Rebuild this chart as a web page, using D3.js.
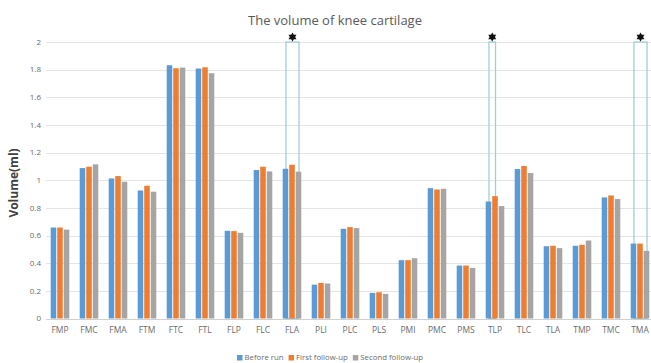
<!DOCTYPE html>
<html><head><meta charset="utf-8">
<script src="https://cdn.jsdelivr.net/npm/d3@7"></script>
<style>body{margin:0;background:#fff;}svg{display:block;font-family:"Open Sans","Noto Sans",sans-serif;}</style>
</head><body><svg id="c" width="651" height="363"></svg>
<script>
const categories = ["FMP","FMC","FMA","FTM","FTC","FTL","FLP","FLC","FLA","PLI","PLC","PLS","PMI","PMC","PMS","TLP","TLC","TLA","TMP","TMC","TMA"];
const seriesNames = ["Before run","First follow-up","Second follow-up"];
const beforeRun = [0.658,1.088,1.013,0.926,1.832,1.808,0.634,1.074,1.083,0.245,0.649,0.185,0.422,0.943,0.383,0.846,1.081,0.523,0.526,0.876,0.542];
const firstFollow = [0.658,1.098,1.030,0.960,1.810,1.817,0.632,1.098,1.112,0.257,0.661,0.190,0.422,0.933,0.383,0.885,1.103,0.526,0.533,0.890,0.542];
const secondFollow = [0.643,1.115,0.989,0.917,1.815,1.774,0.620,1.064,1.062,0.253,0.654,0.178,0.436,0.938,0.366,0.813,1.052,0.509,0.564,0.864,0.489];
const yTicks = [0,0.2,0.4,0.6,0.8,1,1.2,1.4,1.6,1.8,2];
const highlights = [{cat:"FLA",from:"Before run",to:"Second follow-up"},{cat:"TLP",from:"Before run",to:"First follow-up"},{cat:"TMA",from:"Before run",to:"Second follow-up"}];
const colors = ["#5b9bd5","#ed7d31","#a5a5a5"];

const svg = d3.select("#c");
const x0 = d3.scaleBand().domain(categories).range([45.5,654.5]).padding(0);
const x1 = d3.scaleBand().domain(seriesNames).range([5.2,23.8]).paddingInner(0.15);
const y = d3.scaleLinear().domain([0,2]).range([318.5,42]);
const color = d3.scaleOrdinal().domain(seriesNames).range(colors);
const allSeries = [beforeRun, firstFollow, secondFollow];

// gridlines
svg.append("g").selectAll("line").data(yTicks).join("line")
  .attr("x1",46).attr("x2",651)
  .attr("y1",d=>Math.round(y(d))+0.5).attr("y2",d=>Math.round(y(d))+0.5)
  .attr("stroke",d=>d===0?"#d0d0d0":"#e4e4e4").attr("stroke-width",1.2);

// y tick labels
svg.append("g").selectAll("text").data(yTicks).join("text")
  .attr("x",41).attr("y",d=>y(d)).attr("dy","0.35em").attr("text-anchor","end")
  .attr("font-size",8).attr("fill","#6b6b6b").text(d=>d);

// highlight rects (behind bars)
svg.append("g").selectAll("rect").data(highlights).join("rect")
  .attr("x",d=>x0(d.cat)+x1(d.from)+x1.bandwidth()/2+0.5)
  .attr("width",d=>x1(d.to)-x1(d.from))
  .attr("y",y(2)).attr("height",y(0)-y(2))
  .attr("fill","none").attr("stroke","#9fcfd9").attr("stroke-width",1.3);

// bars
const groups = svg.append("g").selectAll("g").data(categories).join("g")
  .attr("transform",d=>`translate(${x0(d)},0)`);
groups.selectAll("rect").data((c,i)=>seriesNames.map((s,j)=>({s,v:allSeries[j][i]}))).join("rect")
  .attr("x",d=>x1(d.s)).attr("width",x1.bandwidth())
  .attr("y",d=>y(d.v)).attr("height",d=>y(0)-y(d.v))
  .attr("fill",d=>color(d.s));

// stars (hexagram)
const hexagram = r => {
  const tri = a0 => d3.range(3).map(k=>{const a=a0+k*2*Math.PI/3;return [r*Math.sin(a),-r*Math.cos(a)];});
  const line = pts => "M"+pts.map(p=>p.join(",")).join("L")+"Z";
  return line(tri(0))+line(tri(Math.PI));
};
svg.append("g").selectAll("path").data(highlights).join("path")
  .attr("transform",d=>`translate(${x0(d.cat)+(x1(d.from)+x1(d.to)+x1.bandwidth())/2+0.5},${y(2)-5})`)
  .attr("d",hexagram(4.6)).attr("fill","#111");

// x labels
svg.append("g").selectAll("text").data(categories).join("text")
  .attr("x",d=>x0(d)+x0.bandwidth()/2).attr("y",330).attr("dy","0.35em")
  .attr("text-anchor","middle").attr("font-size",8.5).attr("fill","#6b6b6b").text(d=>d);

// title
svg.append("text").attr("x",335).attr("y",20).attr("dy","0.35em").attr("text-anchor","middle")
  .attr("font-size",13).attr("fill","#595959").text("The volume of knee cartilage");

// y axis title
svg.append("text").attr("transform","translate(14,183) rotate(-90)").attr("dy","0.35em")
  .attr("text-anchor","middle").attr("font-size",12).attr("font-weight","bold").attr("fill","#404040").text("Volume(ml)");

// legend (laid out by measured text widths)
const leg = svg.append("g");
const items = leg.selectAll("g").data(seriesNames).join("g");
items.append("rect").attr("x",0).attr("y",-3).attr("width",5.5).attr("height",5.5).attr("fill",d=>color(d));
items.append("text").attr("x",7.5).attr("y",0).attr("dy","0.3em").attr("font-size",7.8).attr("fill","#6b6b6b").text(d=>d);
let cx = 0;
items.each(function(){
  const w = d3.select(this).select("text").node().getComputedTextLength();
  d3.select(this).attr("transform",`translate(${cx},0)`);
  cx += 7.5 + w + 5;
});
const totalW = cx - 5;
leg.attr("transform",`translate(${330 - totalW/2},358)`);
</script></body></html>
